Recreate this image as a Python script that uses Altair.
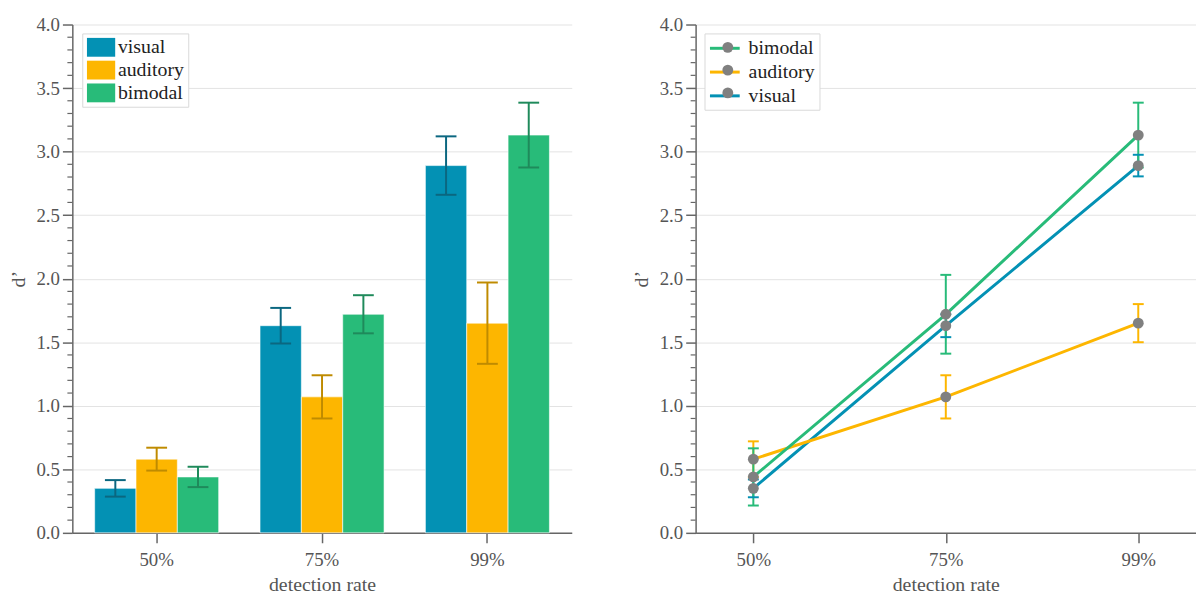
import altair as alt
import pandas as pd

# ---- data ----
rates = ["50%", "75%", "99%"]
series = ["visual", "auditory", "bimodal"]
visual_mean = [0.35, 1.63, 2.89]
auditory_mean = [0.58, 1.07, 1.65]
bimodal_mean = [0.44, 1.72, 3.13]
# error half-widths in the bar panel
visual_bar_err = [0.065, 0.14, 0.23]
auditory_bar_err = [0.09, 0.17, 0.32]
bimodal_bar_err = [0.08, 0.15, 0.255]
# error half-widths in the line panel
visual_line_err = [0.07, 0.09, 0.085]
auditory_line_err = [0.14, 0.17, 0.15]
bimodal_line_err = [0.225, 0.31, 0.255]

series_colors = ["#0391B4", "#FDB600", "#28BB79"]
errbar_colors = ["#0B6780", "#BF8B00", "#1F8A5B"]
line_order = ["bimodal", "auditory", "visual"]
line_colors = ["#28BB79", "#FDB600", "#0391B4"]

y_ticks = [0.0, 0.5, 1.0, 1.5, 2.0, 2.5, 3.0, 3.5, 4.0]
minor_ticks = [0.1, 0.2, 0.3, 0.4, 0.6, 0.7, 0.8, 0.9, 1.1, 1.2, 1.3, 1.4,
               1.6, 1.7, 1.8, 1.9, 2.1, 2.2, 2.3, 2.4, 2.6, 2.7, 2.8, 2.9,
               3.1, 3.2, 3.3, 3.4, 3.6, 3.7, 3.8, 3.9]

rows = []
for s, means, be, le in zip(series,
                            [visual_mean, auditory_mean, bimodal_mean],
                            [visual_bar_err, auditory_bar_err, bimodal_bar_err],
                            [visual_line_err, auditory_line_err, bimodal_line_err]):
    for r, m, e1, e2 in zip(rates, means, be, le):
        rows.append(dict(rate=r, series=s, series_b=s, mean=m,
                         bar_lo=m - e1, bar_hi=m + e1,
                         line_lo=m - e2, line_hi=m + e2))
df = pd.DataFrame(rows)
minor_df = pd.DataFrame({"v": minor_ticks})

FONT = "Liberation Serif"
TXT = "#555555"
AX = "#666666"
W, H = 504, 513

y_scale = alt.Scale(domain=[0, 4], nice=False, zero=True)


def y_axis():
    return alt.Axis(values=y_ticks, format=".1f", title="d’", ticks=True, tickSize=10,
                    tickColor=AX, domainColor=AX, domainWidth=1.5, tickWidth=1.5,
                    labelFont=FONT, labelFontSize=19, labelColor=TXT, labelPadding=3,
                    titleFont=FONT, titleFontSize=20, titleColor=TXT,
                    titleFontWeight="normal", titlePadding=8,
                    grid=True, gridColor="#e3e3e3", gridWidth=1)


def x_axis():
    return alt.Axis(labelAngle=0, title="detection rate", ticks=True, tickSize=10,
                    tickColor=AX, domainColor=AX, domainWidth=1.5, tickWidth=1.5,
                    labelFont=FONT, labelFontSize=19, labelColor=TXT, labelPadding=8,
                    titleFont=FONT, titleFontSize=20, titleColor=TXT,
                    titleFontWeight="normal", titlePadding=5, grid=False)


def minor_layer():
    return alt.Chart(minor_df).mark_rule(color=AX, strokeWidth=1.2).encode(
        y=alt.Y("v:Q", scale=y_scale, axis=y_axis()),
        x=alt.value(-5), x2=alt.value(0))


def YQ(field):
    return alt.Y(field, type="quantitative", scale=y_scale, axis=y_axis())


# ---------------- left: grouped bars ----------------
xb = alt.X("rate:N", sort=rates, scale=alt.Scale(paddingInner=0.25, paddingOuter=0.135),
           axis=x_axis())
xo = alt.XOffset("series:N", sort=series,
                 scale=alt.Scale(domain=series, paddingInner=0, paddingOuter=0))

base = alt.Chart(df)
bars = base.mark_bar(stroke="white", strokeWidth=1, strokeOpacity=0.6).encode(
    x=xb, xOffset=xo,
    y=YQ("mean"),
    color=alt.Color("series:N", scale=alt.Scale(domain=series, range=series_colors),
                    legend=alt.Legend(orient="none", legendX=10, legendY=9, title=None,
                                      symbolType="M-1.5,-1H1.5V1H-1.5Z", symbolSize=361,
                                      symbolStrokeWidth=0, symbolOpacity=1,
                                      labelFont=FONT, labelFontSize=20, labelColor="#222222",
                                      strokeColor="#d9d9d9", fillColor="white", padding=4,
                                      rowPadding=3, labelOffset=7, symbolOffset=5,
                                      cornerRadius=0)))
bar_err = base.mark_rule(strokeWidth=2).encode(
    x=xb, xOffset=xo,
    y=YQ("bar_lo"), y2="bar_hi:Q",
    stroke=alt.Stroke("series:N", scale=alt.Scale(domain=series, range=errbar_colors),
                      legend=None))
bar_cap_lo = base.mark_tick(thickness=2, size=21, orient="horizontal", opacity=1).encode(
    x=xb, xOffset=xo, y=YQ("bar_lo"),
    fill=alt.Fill("series:N", scale=alt.Scale(domain=series, range=errbar_colors),
                  legend=None))
bar_cap_hi = base.mark_tick(thickness=2, size=21, orient="horizontal", opacity=1).encode(
    x=xb, xOffset=xo, y=YQ("bar_hi"),
    fill=alt.Fill("series:N", scale=alt.Scale(domain=series, range=errbar_colors),
                  legend=None))

left = alt.layer(bars, bar_err, bar_cap_lo, bar_cap_hi, minor_layer()).properties(
    width=W, height=H)

# ---------------- right: lines with points ----------------
xp = alt.X("rate:N", sort=rates, scale=alt.Scale(type="point", padding=0.3), axis=x_axis())

lines = base.mark_line(strokeWidth=3).encode(
    x=xp,
    y=YQ("mean"),
    color=alt.Color("series:N", sort=line_order,
                    scale=alt.Scale(domain=line_order, range=line_colors),
                    legend=alt.Legend(orient="none", legendX=9, legendY=9, title=None,
                                      symbolType="M-1.58,0H1.58", symbolSize=361,
                                      symbolStrokeWidth=3, symbolFillColor="transparent",
                                      symbolOffset=5.5,
                                      labelFont=FONT, labelFontSize=20, labelColor="#222222",
                                      strokeColor="#d9d9d9", fillColor="white", padding=4,
                                      rowPadding=3, labelOffset=13, cornerRadius=0,
                                      zindex=0)))
line_err = base.mark_rule(strokeWidth=2).encode(
    x=xp, y=YQ("line_lo"), y2="line_hi:Q",
    stroke=alt.Stroke("series:N", scale=alt.Scale(domain=line_order, range=line_colors),
                      legend=None))
line_cap_lo = base.mark_tick(thickness=2, size=11, orient="horizontal", opacity=1).encode(
    x=xp, y=YQ("line_lo"),
    fill=alt.Fill("series:N", scale=alt.Scale(domain=line_order, range=line_colors),
                  legend=None))
line_cap_hi = base.mark_tick(thickness=2, size=11, orient="horizontal", opacity=1).encode(
    x=xp, y=YQ("line_hi"),
    fill=alt.Fill("series:N", scale=alt.Scale(domain=line_order, range=line_colors),
                  legend=None))
points = base.mark_point(filled=True, color="#808080", size=120, opacity=1).encode(
    x=xp, y=YQ("mean"),
    shape=alt.Shape("series_b:N", sort=line_order,
                    scale=alt.Scale(range=["circle", "circle", "circle"]),
                    legend=alt.Legend(orient="none", legendX=18.5, legendY=9, title=None,
                                      symbolFillColor="#808080", symbolStrokeColor="#808080",
                                      symbolSize=120, symbolStrokeWidth=0,
                                      labelExpr="' '",
                                      labelFont=FONT, labelFontSize=20,
                                      labelColor="transparent", padding=4, rowPadding=3,
                                      labelOffset=3, zindex=1)))

right = alt.layer(lines, line_err, line_cap_lo, line_cap_hi, points, minor_layer()).properties(
    width=W + 1, height=H)

chart = alt.hconcat(left, right, spacing=60).resolve_scale(
    color="independent", stroke="independent", fill="independent",
    shape="independent", x="independent", y="independent"
).properties(
    padding={"left": 8, "top": 13, "right": 0, "bottom": 0},
    background="white"
).configure_view(stroke=None)

chart.save("out.html", embed_options={"renderer": "svg", "actions": False})
